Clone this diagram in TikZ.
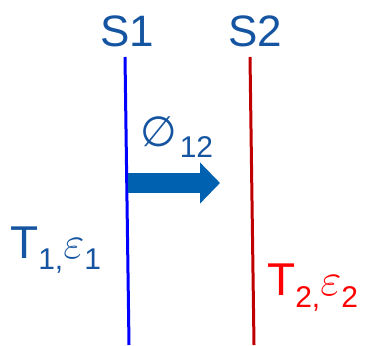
\RequirePackage{fix-cm}
\documentclass[tikz,border=0pt]{standalone}
\usepackage{amsmath,amssymb}
\usepackage{fontspec}
\setmainfont{Liberation Sans}
\newfontfamily\symfont{DejaVu Sans}
\usepackage{tikz}
\usetikzlibrary{positioning,arrows.meta,calc}
\definecolor{inkblue}{RGB}{20,84,160}
\definecolor{arrowblue}{RGB}{0,97,176}
\definecolor{wallone}{RGB}{0,0,255}
\definecolor{walltwo}{RGB}{192,0,0}
\definecolor{hotred}{RGB}{255,0,0}
\newcommand{\lowsub}[2][11pt]{\raisebox{-#1}{\fontsize{30}{30}\selectfont #2}}
\tikzset{
  surf/.style={font=\fontsize{44}{44}\selectfont, text=inkblue, inner sep=0pt, anchor=base},
  tlab/.style={font=\fontsize{46}{46}\selectfont, inner sep=0pt, anchor=base west},
  wall/.style={line width=3pt},
  flux/.style={line width=20pt, draw=arrowblue,
    -{Triangle[length=20pt, width=40pt]}},
}

\begin{document}
\begin{tikzpicture}[x=1pt, y=-1pt]
  \useasboundingbox (0,0) rectangle (366,345);
  % surfaces
  \node[surf] (s1) at (127,47) {S1};
  \node[surf] (s2) at (255,47) {S2};
  \coordinate (s1top) at (125,57);  \coordinate (s1bot) at (129,345);
  \coordinate (s2top) at (250,57);  \coordinate (s2bot) at (254,345);
  \draw[wall, draw=wallone] (s1top) -- (s1bot);
  \draw[wall, draw=walltwo] (s2top) -- (s2bot);
  % exchange
  \coordinate (qfrom) at (128,183);
  \coordinate (qto) at (220,183);
  \draw[flux] (qfrom) -- (qto);
  \node[tlab, text=inkblue, font=\fontsize{42}{42}\selectfont] (phi) at (140,146)
    {{\symfont ∅}\hspace{3pt}\lowsub{12}};
  % temperatures and emissivities
  \node[tlab, text=inkblue] (t1) at (10,258) {T\lowsub{1,}$\varepsilon$\lowsub{1}};
  \node[tlab, text=hotred] (t2) at (267,295) {T\lowsub[12pt]{2,}$\varepsilon$\lowsub[12pt]{2}};
\end{tikzpicture}
\end{document}
